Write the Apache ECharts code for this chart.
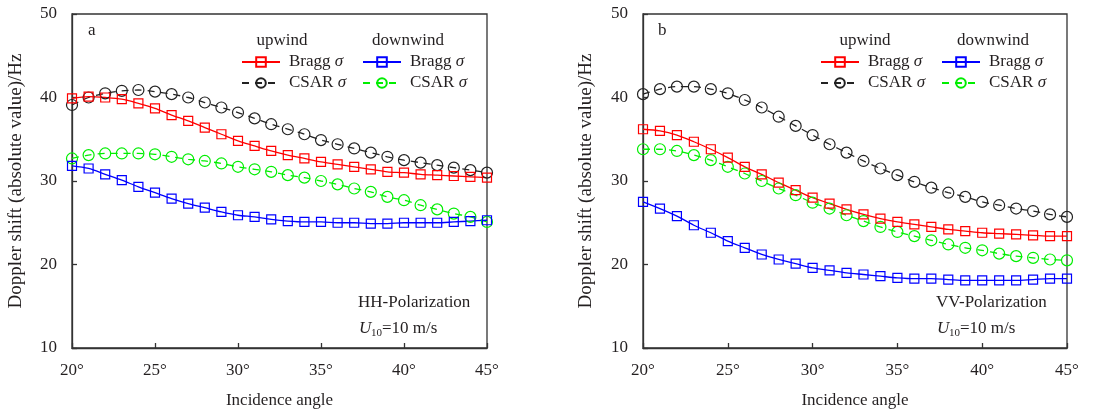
<!DOCTYPE html>
<html><head><meta charset="utf-8">
<script src="https://cdn.jsdelivr.net/npm/echarts@6/dist/echarts.min.js"></script>
<style>html,body{margin:0;padding:0;background:#fff}#c{width:1110px;height:414px}</style>
</head><body><div id="c"></div>
<script>
const angles = [20,21,22,23,24,25,26,27,28,29,30,31,32,33,34,35,36,37,38,39,40,41,42,43,44,45];
const xTicks = [20,25,30,35,40,45];
const yTicks = [10,20,30,40,50];

// Panel a: HH polarization
const hhUpBragg   = [39.9,40.1,40.0,39.8,39.3,38.7,37.9,37.2,36.4,35.6,34.8,34.2,33.6,33.1,32.7,32.3,32.0,31.7,31.4,31.1,31.0,30.8,30.7,30.6,30.5,30.4];
const hhUpCSAR    = [39.1,40.0,40.5,40.8,40.9,40.7,40.4,40.0,39.4,38.8,38.2,37.5,36.8,36.2,35.6,34.9,34.4,33.9,33.4,32.9,32.5,32.2,31.9,31.6,31.3,31.0];
const hhDownBragg = [31.8,31.5,30.8,30.1,29.3,28.6,27.9,27.3,26.8,26.3,25.9,25.7,25.4,25.2,25.1,25.1,25.0,25.0,24.9,24.9,25.0,25.0,25.0,25.1,25.2,25.3];
const hhDownCSAR  = [32.7,33.1,33.3,33.3,33.3,33.2,32.9,32.6,32.4,32.1,31.7,31.4,31.1,30.7,30.4,30.0,29.6,29.1,28.7,28.1,27.7,27.1,26.6,26.1,25.7,25.1];

// Panel b: VV polarization
const vvUpBragg   = [36.2,36.0,35.5,34.7,33.8,32.8,31.7,30.8,29.8,28.9,28.0,27.3,26.6,26.0,25.5,25.1,24.8,24.5,24.2,24.0,23.8,23.7,23.6,23.5,23.4,23.4];
const vvUpCSAR    = [40.4,41.0,41.3,41.3,41.0,40.5,39.7,38.8,37.7,36.6,35.5,34.4,33.4,32.4,31.5,30.7,29.9,29.2,28.6,28.1,27.5,27.1,26.7,26.4,26.0,25.7];
const vvDownBragg = [27.5,26.7,25.8,24.7,23.8,22.8,22.0,21.2,20.6,20.1,19.6,19.3,19.0,18.8,18.6,18.4,18.3,18.3,18.2,18.1,18.1,18.1,18.1,18.2,18.3,18.3];
const vvDownCSAR  = [33.8,33.8,33.6,33.1,32.5,31.7,30.9,30.0,29.1,28.3,27.4,26.7,25.9,25.2,24.5,23.9,23.4,22.9,22.4,22.0,21.7,21.3,21.0,20.8,20.6,20.5];

const FONT = 'Liberation Serif';
const TXT = '#231f20';
const AX = '#333';

const styles = {
  upBragg:   {color:'#ff0000', symbol:'rect',   size:9,  dash:'solid'},
  upCSAR:    {color:'#222222', symbol:'circle', size:11, dash:[7,6]},
  downBragg: {color:'#0000ff', symbol:'rect',   size:9,  dash:'solid'},
  downCSAR:  {color:'#00ee00', symbol:'circle', size:11, dash:[7,6]}
};
const legendLabel = {upBragg:'Bragg', upCSAR:'CSAR', downBragg:'Bragg', downCSAR:'CSAR'};

function mkSeries(name, vals, gi) {
  const s = styles[name];
  return {
    name, type:'line', xAxisIndex:gi, yAxisIndex:gi,
    data: angles.map((a,i)=>[a, vals[i]]),
    symbol: s.symbol, symbolSize: s.size, smooth: 0.3,
    lineStyle: {color:s.color, width:1.3, type:s.dash},
    itemStyle: {color:'transparent', borderColor:s.color, borderWidth:1.2},
    emphasis: {disabled:true}
  };
}

function mkX(gi) {
  return {
    type:'value', gridIndex:gi, min:20, max:45, interval:5,
    name:'Incidence angle', nameLocation:'middle', nameGap:44,
    nameTextStyle:{fontFamily:FONT, fontSize:17, color:TXT},
    axisLine:{show:true, lineStyle:{color:AX, width:1.3}},
    axisTick:{show:true, inside:true, length:5, lineStyle:{color:AX, width:1.3}},
    axisLabel:{margin:14, fontFamily:FONT, fontSize:17, color:TXT, formatter: v => xTicks.includes(v) ? v + '°' : ''},
    splitLine:{show:false}
  };
}
function mkY(gi, gap) {
  return {
    type:'value', gridIndex:gi, min:10, max:50, interval:10,
    name:'Doppler shift (absolute value)/Hz', nameLocation:'middle', nameGap:gap,
    nameTextStyle:{fontFamily:FONT, fontSize:19, color:TXT},
    axisLine:{show:true, lineStyle:{color:AX, width:1.3}},
    axisTick:{show:true, inside:true, length:5, lineStyle:{color:AX, width:1.3}},
    axisLabel:{margin:15, fontFamily:FONT, fontSize:17, color:TXT, formatter: v => yTicks.includes(v) ? String(v) : ''},
    splitLine:{show:false}
  };
}

function mkLegend(name, left, cy) {
  return {
    show:true, selectedMode:false, data:[name], left:left, top:cy-9,
    itemWidth:38, itemHeight:12, padding:0,
    formatter: n => '{n|' + legendLabel[n] + ' }{s|σ}',
    textStyle:{fontFamily:FONT, fontSize:17, color:TXT, lineHeight:18,
      rich:{n:{fontFamily:FONT, fontSize:17, color:TXT, padding:[0,0,0,4]},
            s:{fontFamily:FONT, fontSize:17, color:TXT, fontStyle:'italic'}}}
  };
}

function ctxt(cx, y, text) {
  return {type:'text', x:cx, y:y, silent:true,
    style:{text:text, font:'17px "Liberation Serif"', fill:TXT, align:'center', verticalAlign:'middle'}};
}
function mtxt(x, y, text, font) {
  return {type:'text', x:x, y:y, silent:true,
    style:{text:text, font:font || '17px "Liberation Serif"', fill:TXT, align:'left', verticalAlign:'middle'}};
}

const chart = echarts.init(document.getElementById('c'), null, {renderer:'canvas'});
chart.setOption({
  backgroundColor:'#fff',
  animation:false,
  grid:[
    {left:72, top:14, width:415, height:338, show:true, borderColor:AX, borderWidth:1.3, backgroundColor:'transparent'},
    {left:643, top:14, width:424, height:338, show:true, borderColor:AX, borderWidth:1.3, backgroundColor:'transparent'}
  ],
  xAxis:[mkX(0), mkX(1)],
  yAxis:[mkY(0, 46), mkY(1, 47)],
  legend:[
    mkLegend('upBragg', 241, 62), mkLegend('upCSAR', 241, 83),
    mkLegend('downBragg', 362, 62), mkLegend('downCSAR', 362, 83),
    mkLegend('upBragg', 820, 62), mkLegend('upCSAR', 820, 83),
    mkLegend('downBragg', 941, 62), mkLegend('downCSAR', 941, 83)
  ],
  series:[
    mkSeries('upCSAR', hhUpCSAR, 0), mkSeries('downCSAR', hhDownCSAR, 0),
    mkSeries('upBragg', hhUpBragg, 0), mkSeries('downBragg', hhDownBragg, 0),
    mkSeries('upCSAR', vvUpCSAR, 1), mkSeries('downCSAR', vvDownCSAR, 1),
    mkSeries('upBragg', vvUpBragg, 1), mkSeries('downBragg', vvDownBragg, 1)
  ],
  graphic:[
    mtxt(88, 31, 'a'), mtxt(658, 31, 'b'),
    ctxt(282, 41, 'upwind'), ctxt(408, 41, 'downwind'),
    ctxt(865, 41, 'upwind'), ctxt(993, 41, 'downwind'),
    mtxt(358, 303, 'HH-Polarization'),
    mtxt(359, 329, 'U', 'italic 17px "Liberation Serif"'),
    mtxt(371, 333, '10', '11px "Liberation Serif"'),
    mtxt(382, 329, '=10 m/s'),
    mtxt(936, 303, 'VV-Polarization'),
    mtxt(937, 329, 'U', 'italic 17px "Liberation Serif"'),
    mtxt(949, 333, '10', '11px "Liberation Serif"'),
    mtxt(960, 329, '=10 m/s')
  ]
});
</script>
</body></html>
